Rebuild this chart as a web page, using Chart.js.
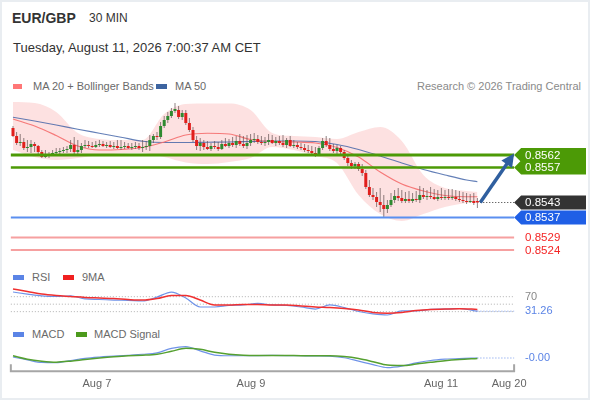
<!DOCTYPE html>
<html>
<head>
<meta charset="utf-8">
<script src="https://cdn.jsdelivr.net/npm/chart.js@4.4.1/dist/chart.umd.min.js"></script>
<style>
  html,body{margin:0;padding:0;background:#fff;}
  #wrap{position:relative;width:590px;height:400px;overflow:hidden;box-shadow:inset 0 0 0 2px #e9edf1;font-family:"Liberation Sans",Arial,sans-serif;}
  #wrap canvas{position:absolute;left:0;}
  .t{position:absolute;white-space:nowrap;}
  .lg{font-size:11px;line-height:14px;color:#6a6a6a;}
  .sw{position:absolute;height:5px;}
</style>
</head>
<body>
<div id="wrap">
  <div class="t" style="left:12px;top:10px;font-size:14px;line-height:16px;font-weight:bold;color:#333">EUR/GBP</div>
  <div class="t" style="left:89px;top:10px;font-size:12px;line-height:16px;color:#333">30 MIN</div>
  <div class="t" style="left:13px;top:40px;font-size:13px;line-height:16px;color:#333">Tuesday, August 11, 2026 7:00:37 AM CET</div>

  <span class="sw" style="left:13px;top:84px;width:9px;background:#f77"></span>
  <div class="t lg" style="left:33px;top:79px">MA 20 + Bollinger Bands</div>
  <span class="sw" style="left:156px;top:84px;width:11px;background:#3d64a0"></span>
  <div class="t lg" style="left:175px;top:79px">MA 50</div>
  <div class="t lg" style="right:9px;top:79px;color:#8a8a8a">Research © 2026 Trading Central</div>

  <canvas id="price" width="590" height="170" style="top:95px"></canvas>

  <span class="sw" style="left:13px;top:275px;width:11px;background:#5b84e6"></span>
  <div class="t lg" style="left:32px;top:270px">RSI</div>
  <span class="sw" style="left:63px;top:275px;width:11px;background:#f02020"></span>
  <div class="t lg" style="left:82px;top:270px">9MA</div>
  <canvas id="rsi" width="590" height="40" style="top:281px"></canvas>

  <span class="sw" style="left:13px;top:332px;width:11px;background:#5b84e6"></span>
  <div class="t lg" style="left:32px;top:327px">MACD</div>
  <span class="sw" style="left:76px;top:332px;width:11px;background:#4c9a1c"></span>
  <div class="t lg" style="left:94px;top:327px">MACD Signal</div>
  <canvas id="macd" width="590" height="60" style="top:340px"></canvas>
</div>
<script>
// 30 min candles, EUR/GBP
const open=[
0.85728,0.85696,0.85668,0.85672,0.85648,0.85652,0.85664,0.85656,0.85632,0.85612,
0.8562,0.85624,0.85628,0.85632,0.85636,0.8564,0.85644,0.8566,0.85632,0.8564,
0.85656,0.8566,0.85656,0.85652,0.8566,0.85664,0.85656,0.8566,0.85652,0.85656,
0.85648,0.85652,0.85656,0.85648,0.85652,0.85656,0.85648,0.85652,0.85656,0.8568,
0.85696,0.85692,0.85736,0.8576,0.85776,0.85796,0.858,0.85772,0.85788,0.85748,
0.8572,0.8568,0.85656,0.85668,0.85652,0.85644,0.85656,0.85652,0.85644,0.85664,
0.85656,0.85668,0.8566,0.85676,0.85664,0.85656,0.85668,0.8568,0.85684,0.85672,
0.85668,0.85672,0.8568,0.85668,0.85676,0.85668,0.8566,0.8568,0.85656,0.8566,
0.85652,0.85648,0.8564,0.85636,0.85628,0.85624,0.85648,0.85676,0.8566,0.85644,
0.85636,0.85648,0.85632,0.85608,0.85588,0.85576,0.85584,0.85564,0.85548,0.85492,
0.8546,0.85452,0.85432,0.8542,0.85404,0.8542,0.8544,0.85456,0.85448,0.85436,
0.85444,0.85436,0.85444,0.8544,0.8546,0.85452,0.85456,0.85452,0.85444,0.85452,
0.85448,0.85452,0.85448,0.85452,0.85444,0.8544,0.85436,0.85432,0.85436,0.85436];
const high=[
0.85736,0.85712,0.85704,0.85688,0.8568,0.8568,0.85672,0.8566,0.8564,0.8564,
0.85632,0.8564,0.85648,0.85648,0.85652,0.85656,0.8568,0.85692,0.8568,0.85668,
0.8568,0.85676,0.85672,0.85676,0.8568,0.85676,0.85672,0.85676,0.85672,0.8568,
0.8568,0.85672,0.85668,0.85668,0.85672,0.85668,0.8568,0.85676,0.857,0.85704,
0.85712,0.85752,0.85776,0.85792,0.85808,0.85828,0.85816,0.858,0.858,0.85768,
0.85732,0.85696,0.85688,0.8568,0.85676,0.85668,0.85676,0.85672,0.8568,0.85688,
0.85684,0.85692,0.85696,0.85704,0.85696,0.857,0.85704,0.85708,0.857,0.85696,
0.85692,0.85704,0.857,0.85692,0.85696,0.857,0.85688,0.85696,0.8568,0.85672,
0.85668,0.85664,0.8566,0.85656,0.85652,0.85656,0.85688,0.85696,0.85688,0.85664,
0.8566,0.85656,0.8564,0.8562,0.856,0.85592,0.85592,0.85584,0.8556,0.8552,
0.85488,0.85472,0.85488,0.8546,0.8544,0.85468,0.8548,0.85488,0.8548,0.85472,
0.85476,0.85468,0.85476,0.85496,0.85488,0.8548,0.85492,0.85484,0.8548,0.85488,
0.8548,0.85484,0.85484,0.8548,0.85476,0.85472,0.85468,0.85464,0.85468,0.85448];
const low=[
0.85692,0.8566,0.85656,0.8564,0.85632,0.85628,0.85632,0.85624,0.85608,0.85608,
0.85608,0.85616,0.8562,0.85624,0.85628,0.85628,0.85632,0.85616,0.8562,0.85628,
0.85648,0.85648,0.85648,0.85648,0.85652,0.85652,0.85648,0.85648,0.85644,0.85644,
0.8564,0.85644,0.85644,0.8564,0.85644,0.8564,0.85632,0.8564,0.85636,0.85668,
0.8568,0.85684,0.85728,0.85748,0.85768,0.85788,0.85764,0.8576,0.8574,0.85712,
0.85672,0.8564,0.85636,0.8564,0.8564,0.85636,0.85644,0.85636,0.8564,0.85652,
0.85648,0.85652,0.85648,0.85656,0.85648,0.85644,0.85656,0.85668,0.85664,0.8566,
0.85656,0.8566,0.85664,0.85656,0.8566,0.85652,0.85648,0.85652,0.85648,0.85644,
0.8564,0.85632,0.85628,0.8562,0.85612,0.85616,0.8564,0.85652,0.85636,0.85628,
0.85624,0.85624,0.856,0.85576,0.85564,0.85564,0.85556,0.85536,0.85484,0.85452,
0.8544,0.85412,0.85392,0.85368,0.85388,0.85412,0.85428,0.85436,0.85428,0.85428,
0.85428,0.85428,0.85432,0.85428,0.85444,0.8544,0.85444,0.8544,0.85436,0.8544,
0.8544,0.8544,0.8544,0.85436,0.85432,0.85428,0.85424,0.85428,0.8542,0.85408];
const close=[
0.85696,0.85668,0.85672,0.85648,0.85652,0.85664,0.85656,0.85632,0.85612,0.8562,
0.85624,0.85628,0.85632,0.85636,0.8564,0.85644,0.8566,0.85632,0.8564,0.85656,
0.8566,0.85656,0.85652,0.8566,0.85664,0.85656,0.8566,0.85652,0.85656,0.85648,
0.85652,0.85656,0.85648,0.85652,0.85656,0.85648,0.85652,0.85656,0.8568,0.85696,
0.85692,0.85736,0.8576,0.85776,0.85796,0.85804,0.85772,0.85788,0.85748,0.8572,
0.8568,0.85656,0.85668,0.85652,0.85644,0.85656,0.85652,0.85644,0.85664,0.85656,
0.85668,0.8566,0.85676,0.85664,0.85656,0.85668,0.8568,0.85684,0.85672,0.85668,
0.85672,0.8568,0.85668,0.85676,0.85668,0.8566,0.8568,0.85656,0.8566,0.85652,
0.85648,0.8564,0.85636,0.85628,0.85624,0.85648,0.85676,0.8566,0.85644,0.85636,
0.85648,0.85632,0.85608,0.85588,0.85576,0.85584,0.85564,0.85548,0.85492,0.8546,
0.85452,0.85432,0.8542,0.85404,0.8542,0.8544,0.85456,0.85448,0.85436,0.85444,
0.85436,0.85444,0.8544,0.8546,0.85452,0.85456,0.85452,0.85444,0.85452,0.85448,
0.85452,0.85448,0.85452,0.85444,0.8544,0.85436,0.85432,0.85436,0.85428,0.8543];

// overlays, read every 6 candles
const sampleIdx=[0,6,12,18,24,30,36,42,48,54,60,66,72,78,84,90,96,102,108,114,120,126,129];
const ma20=[0.85764,0.85736,0.85698,0.85656,0.8564,0.85642,0.8565,0.85672,0.857,0.85707,0.85704,0.85682,0.85674,0.85672,0.85668,0.8565,0.85612,0.85552,0.85504,0.85476,0.85458,0.85453,0.85453];
const ma50=[0.85771,0.85756,0.8574,0.85723,0.85707,0.85691,0.85675,0.8567,0.8567,0.85671,0.85672,0.85674,0.85676,0.85676,0.85674,0.85662,0.85642,0.85616,0.85588,0.85562,0.8554,0.8552,0.85513];
const bbUpper=[0.85832,0.85828,0.85792,0.85708,0.85684,0.8568,0.8568,0.85784,0.85824,0.85826,0.85826,0.858,0.85708,0.85696,0.85692,0.85684,0.85712,0.85732,0.85676,0.8554,0.85488,0.85476,0.85472];
const bbLower=[0.8564,0.85612,0.856,0.85608,0.8562,0.85626,0.85628,0.85612,0.8559,0.85584,0.85592,0.85608,0.85652,0.8564,0.85616,0.85588,0.8546,0.85384,0.85356,0.85384,0.85412,0.85428,0.85432];

// Trading Central levels
const targets=[0.8562,0.8557];
const pivot=[0.8537];
const supports=[0.8529,0.8524];

// oscillators, read every 4 candles
const oscIdx=[0,4,8,12,16,20,24,28,32,36,40,44,48,52,56,60,64,68,72,76,80,84,88,92,96,100,104,108,112,116,120,124,129];
const rsi=[82.5,77,72,70.5,72,64,62.5,61,60,58.5,69,82.5,66.5,42.5,42.5,46.5,48,52,48,46.5,42.5,37,48,41,30.5,24,21,32,32,36,37,38.5,31.26];
const rsi9ma=[90.5,84,77,73,70.5,68,66.5,65,62.5,61,65,73,73,61,48,48,49,49,48,48,45,42.5,41,38.5,34.5,28,26,28,33,36,37,38,36];
const rsiLevels=[70,50,30];
const macd=[0.000007,-0.000022,-0.000048,-0.00005,-0.000028,-0.000006,0.000007,0.000016,0.000025,0.000035,0.00005,0.000095,0.000112,0.00007,0.000027,0.00002,0.00002,0.000022,0.000023,0.000022,0.00002,0.000018,0.000015,0,-0.000035,-0.00007,-0.0001,-0.000085,-0.000052,-0.000028,-0.000015,-0.000008,-0.000003];
const macdSignal=[0.00002,-0.000015,-0.000035,-0.000045,-0.000035,-0.000018,-0.000003,0.00001,0.00002,0.000025,0.000035,0.000065,0.000095,0.000085,0.000055,0.000035,0.000025,0.000023,0.000023,0.000022,0.000021,0.00002,0.00002,0.000012,-0.000008,-0.00004,-0.000075,-0.00008,-0.000065,-0.000047,-0.00003,-0.000018,-0.000007];

// time axis
const tickIdx=[23.3,66.1,118.9,137.8];
const tickLabels=["Aug 7","Aug 9","Aug 11","Aug 20"];

// layout (in candle index units)
const X_MIN=-3.61, X_MAX=160.28;
const LINE_START=-0.6, LINE_END=139.2;
const FONT='"Liberation Sans", Arial, sans-serif';
Chart.defaults.font.family=FONT;

const last=close.length-1;
const pts=(xs,ys)=>xs.map((x,i)=>({x,y:ys[i]}));
const seg=(v,from=LINE_START)=>[{x:from,y:v},{x:LINE_END,y:v}];
const xScale=()=>({type:'linear',min:X_MIN,max:X_MAX,display:false,offset:false});
const baseOpts={responsive:false,animation:false,devicePixelRatio:1,
  layout:{padding:0},
  plugins:{legend:{display:false},tooltip:{enabled:false}}};
const lineDs=(data,color,width,order,extra)=>Object.assign({type:'line',data,borderColor:color,borderWidth:width,
  pointRadius:0,fill:false,order,cubicInterpolationMode:'monotone'},extra||{});

function drawTag(ctx,xTip,yc,fill,text,color){
  if(fill){
    ctx.fillStyle=fill;
    ctx.beginPath();
    ctx.moveTo(xTip,yc);
    ctx.lineTo(xTip+7,yc-7);
    ctx.lineTo(586,yc-7);
    ctx.lineTo(586,yc+7);
    ctx.lineTo(xTip+7,yc+7);
    ctx.closePath();
    ctx.fill();
  }
  ctx.fillStyle=color;
  ctx.font='11.5px '+FONT;
  ctx.textAlign='left';
  ctx.textBaseline='middle';
  ctx.fillText(text,xTip+11,yc+0.5);
}

const tagPlugin={
  id:'tags',
  afterDatasetsDraw(chart){
    const {ctx,scales:{x,y}}=chart;
    const tip=x.getPixelForValue(LINE_END);
    ctx.save();
    // arrow to first target
    const x0=x.getPixelForValue(last+0.8), y0=y.getPixelForValue(close[last]);
    const x1=tip, y1=y.getPixelForValue(targets[0])-1.5;
    const len=Math.hypot(x1-x0,y1-y0), ux=(x1-x0)/len, uy=(y1-y0)/len;
    ctx.strokeStyle='#2f5f9f';ctx.fillStyle='#2f5f9f';ctx.lineWidth=3.5;
    ctx.beginPath();ctx.moveTo(x0,y0);ctx.lineTo(x1-11*ux,y1-11*uy);ctx.stroke();
    ctx.beginPath();
    ctx.moveTo(x1,y1);
    ctx.lineTo(x1-13*ux-6.5*uy,y1-13*uy+6.5*ux);
    ctx.lineTo(x1-13*ux+6.5*uy,y1-13*uy-6.5*ux);
    ctx.closePath();ctx.fill();
    // price tags
    targets.forEach(v=>drawTag(ctx,tip,y.getPixelForValue(v),'#4c9a06',v.toFixed(4),'#fff'));
    drawTag(ctx,tip,y.getPixelForValue(close[last]),'#333333',close[last].toFixed(4),'#fff');
    pivot.forEach(v=>drawTag(ctx,tip,y.getPixelForValue(v),'#1f5fe6',v.toFixed(4),'#fff'));
    supports.forEach(v=>drawTag(ctx,tip,y.getPixelForValue(v),null,v.toFixed(4),'#f42424'));
    ctx.restore();
  }
};

new Chart(document.getElementById('price'),{
  type:'bar',
  data:{datasets:[
    ...targets.map((v,i)=>lineDs(seg(v),'#4c9a06',i===0?3:2.5,1)),
    ...pivot.map(v=>lineDs(seg(v),'#5b8ff0',2,1)),
    ...supports.map(v=>lineDs(seg(v),'#f6a0a0',2,1)),
    lineDs(seg(close[last],last+0.8),'#333',1,1,{borderDash:[1,2]}),
    {label:'body',data:close.map((c,i)=>({x:i,y:[open[i],c]})),
      backgroundColor:close.map((c,i)=>c>=open[i]?'#2f8a30':'#e11f1c'),
      borderWidth:0,barThickness:3,maxBarThickness:3,grouped:false,order:2,inflateAmount:0},
    {label:'wick',data:high.map((h,i)=>({x:i,y:[low[i],h]})),
      backgroundColor:'rgba(95,80,80,0.7)',
      borderWidth:0,barThickness:1,maxBarThickness:1,grouped:false,order:3,inflateAmount:0},
    lineDs(pts(sampleIdx,ma20),'rgba(245,110,110,0.9)',1.2,4),
    lineDs(pts(sampleIdx,ma50),'rgba(60,95,165,0.8)',1.2,4),
    lineDs(pts(sampleIdx,bbUpper),'rgba(0,0,0,0)',0,6,{fill:'+1',backgroundColor:'rgba(251,200,200,0.55)'}),
    lineDs(pts(sampleIdx,bbLower),'rgba(0,0,0,0)',0,7)
  ]},
  options:Object.assign({},baseOpts,{
    scales:{x:xScale(),y:{min:0.8518,max:0.8586,display:false,stacked:false}}
  }),
  plugins:[tagPlugin]
});

const rsiLabels={
  id:'rsiLabels',
  afterDatasetsDraw(chart){
    const {ctx,scales:{y}}=chart;
    ctx.save();
    ctx.font='11px '+FONT;ctx.textBaseline='middle';ctx.textAlign='left';
    ctx.fillStyle='#888';ctx.fillText(String(rsiLevels[0]),525,y.getPixelForValue(rsiLevels[0]));
    ctx.fillStyle='#5b84e6';ctx.fillText(rsi[rsi.length-1].toFixed(2),525,y.getPixelForValue(rsi[rsi.length-1]));
    ctx.restore();
  }
};

new Chart(document.getElementById('rsi'),{
  type:'line',
  data:{datasets:[
    lineDs(pts(oscIdx,rsi9ma),'#f03030',1.5,1),
    lineDs(pts(oscIdx,rsi),'rgba(95,135,230,0.9)',1.2,2),
    lineDs(seg(rsi[rsi.length-1],last),'#6f94ea',1,3,{borderDash:[1,2]}),
    ...rsiLevels.map(v=>lineDs(seg(v),'#b0b0b0',1,4,{borderDash:[1,2]}))
  ]},
  options:Object.assign({},baseOpts,{
    scales:{x:xScale(),y:{min:5,max:112,display:false}}
  }),
  plugins:[rsiLabels]
});

const macdDeco={
  id:'macdDeco',
  afterDatasetsDraw(chart){
    const {ctx,chartArea,scales:{x,y}}=chart;
    const v=macd[macd.length-1];
    ctx.save();
    ctx.font='11px '+FONT;ctx.textBaseline='middle';ctx.textAlign='left';
    ctx.fillStyle='#5b84e6';ctx.fillText(v.toFixed(2),525,y.getPixelForValue(v));
    // bracket-like time axis
    const b=chartArea.bottom, xa=x.getPixelForValue(LINE_START), xb=x.getPixelForValue(LINE_END);
    ctx.strokeStyle='#a6a6a6';ctx.lineWidth=2;
    ctx.beginPath();
    ctx.moveTo(xa,b-7);ctx.lineTo(xa,b);ctx.lineTo(xb,b);ctx.lineTo(xb,b-7);
    ctx.stroke();
    ctx.restore();
  }
};

new Chart(document.getElementById('macd'),{
  type:'line',
  data:{datasets:[
    lineDs(pts(oscIdx,macdSignal),'#55a030',1.5,1),
    lineDs(pts(oscIdx,macd),'rgba(95,135,230,0.9)',1.2,2),
    lineDs(seg(macd[macd.length-1],last),'#6f94ea',1,3,{borderDash:[1,2]})
  ]},
  options:Object.assign({},baseOpts,{
    layout:{padding:{bottom:3.5}},
    scales:{
      x:{type:'linear',min:X_MIN,max:X_MAX,offset:false,
        afterBuildTicks:(s)=>{s.ticks=tickIdx.map(v=>({value:v}));},
        ticks:{callback:(v,i)=>tickLabels[i],color:'#666',font:{size:11},padding:6,maxRotation:0,autoSkip:false},
        grid:{display:false,drawTicks:false},border:{display:false}},
      y:{min:-0.000138,max:0.00018,display:false}
    }
  }),
  plugins:[macdDeco]
});
</script>
</body>
</html>
